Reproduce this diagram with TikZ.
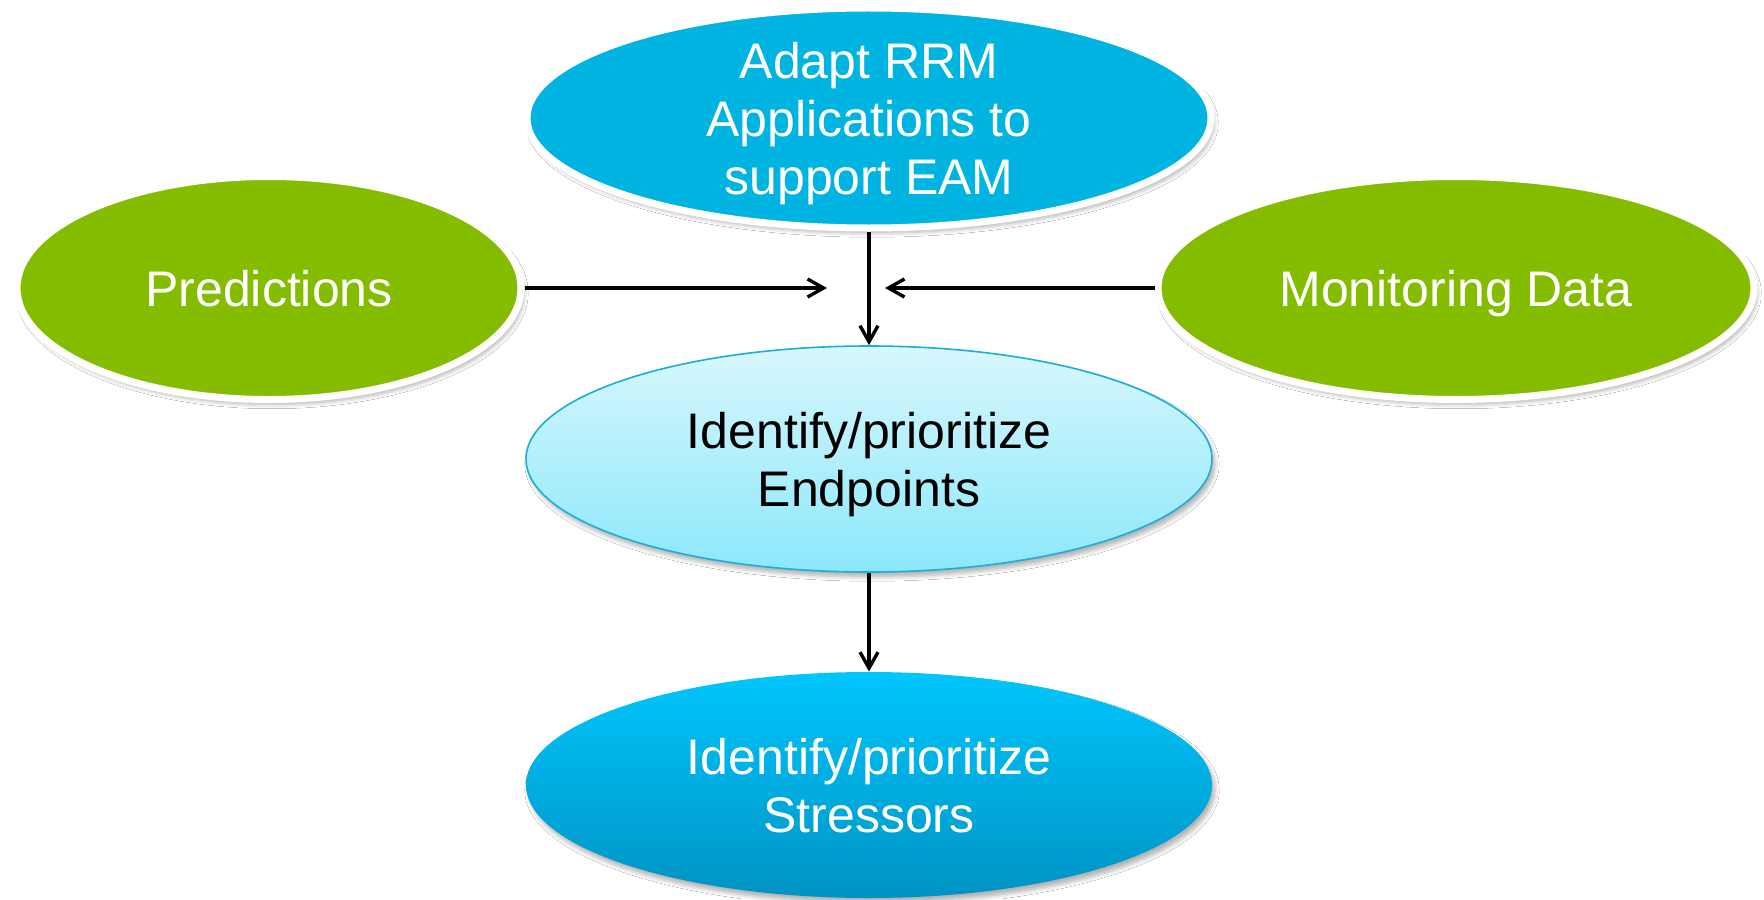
\documentclass[tikz,border=0pt]{standalone}
\usepackage{fontspec}
\setmainfont{Liberation Sans}
\usetikzlibrary{shapes.geometric,arrows.meta,shadows.blur}

\definecolor{topblue}{HTML}{00B4E1}
\definecolor{leafgreen}{HTML}{84BD00}
\definecolor{paletop}{HTML}{D8F7FD}
\definecolor{palebottom}{HTML}{8CE8FB}
\definecolor{paleedge}{HTML}{1AAED8}
\definecolor{deeptop}{HTML}{00C6FC}
\definecolor{deepbottom}{HTML}{0093C4}

\tikzset{
  bubble/.style={ellipse, inner sep=0pt, align=center, text depth=0pt,
    font=\fontsize{25pt}{29pt}\selectfont,
    blur shadow={shadow xshift=1.5pt, shadow yshift=-2.5pt, shadow blur steps=6, shadow opacity=30}},
  ringed/.style={bubble, draw=white, line width=3.5pt, text=white, minimum height=111.5pt},
  flow/.style={-{Straight Barb[length=8pt,width=9pt]}, line width=1.7pt}
}

\begin{document}
\begin{tikzpicture}[x=0.5pt, y=-0.5pt]
    \fill[white] (0,0) rectangle (1764,899);
    \useasboundingbox (0,0) rectangle (1764,899);

    \node(adapt) [ringed, fill=topblue, minimum width=342pt, minimum height=110pt] at (869,118)
    {Adapt RRM\\Applications to\\support EAM};
    \node(predictions) [ringed, fill=leafgreen, minimum width=252pt] at (269,288) {Predictions};
    \node(monitoring) [ringed, fill=leafgreen, minimum width=298pt] at (1456,288) {Monitoring Data};

    % middle and bottom
    \node(endpoints) [bubble, draw=paleedge, line width=0.8pt, top color=paletop, bottom color=palebottom,
    minimum width=343pt, minimum height=113pt] at (869,459) {Identify/prioritize\\Endpoints};
    \node(stressors) [bubble, top color=deeptop, bottom color=deepbottom, text=white,
    minimum width=343pt, minimum height=113pt] at (869,785) {Identify/prioritize\\Stressors};

    % Draw Lines
    \coordinate(joinL) at (827,288);
    \coordinate(joinR) at (885,288);
    \draw[flow] (predictions) -- (joinL);
    \draw[flow] (monitoring) -- (joinR);
    \draw[flow] (adapt.south) -- (endpoints.north);
    \draw[flow] (endpoints.south) -- (stressors.north);

\end{tikzpicture}
\end{document}
